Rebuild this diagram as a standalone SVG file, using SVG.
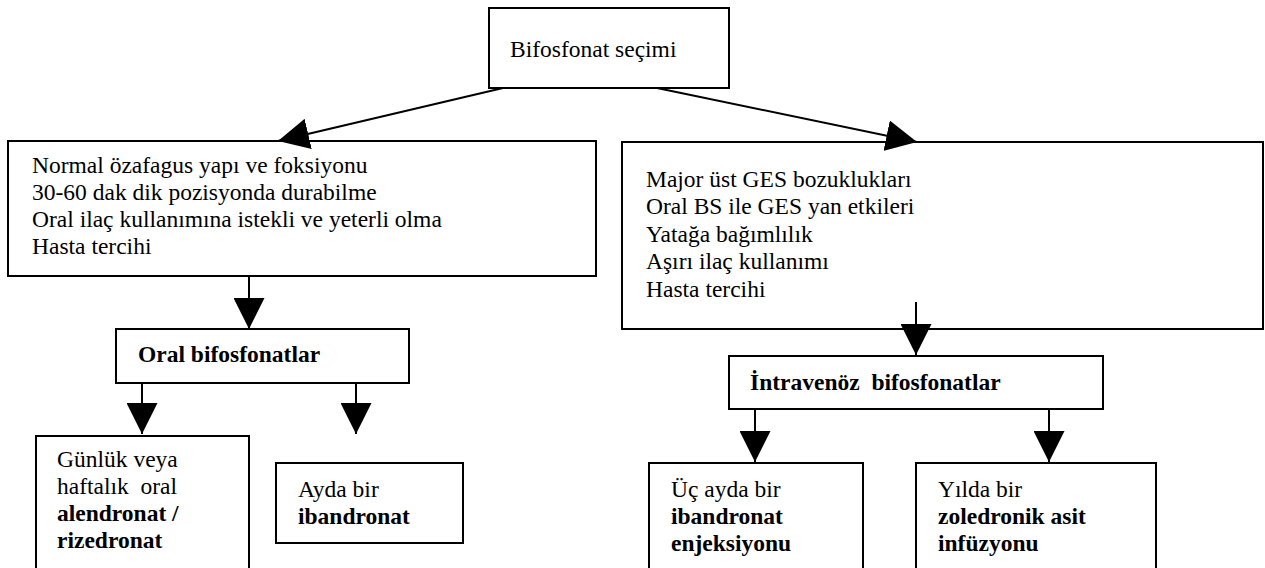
<svg xmlns="http://www.w3.org/2000/svg" width="1265" height="568" viewBox="0 0 1265 568">
<style>
.box{fill:#fff;stroke:#000;stroke-width:2}
text{font-family:'Liberation Serif','Times New Roman',Times,serif;font-size:23.5px;fill:#000;white-space:pre}
.b{font-weight:bold}
.c{stroke:#000;stroke-width:2;fill:none;marker-end:url(#ah)}
</style>
<defs>
<marker id="ah" markerUnits="userSpaceOnUse" markerWidth="31" markerHeight="31" viewBox="0 0 31 31" refX="31" refY="15.5" orient="auto">
<path d="M0,0 L31,15.5 L0,31 z" fill="#000"/>
</marker>
</defs>
<rect width="1265" height="568" fill="#fff"/>
<g id="n-top">
<rect class="box" x="489" y="8" width="240" height="80"/>
<text x="510" y="57">Bifosfonat seçimi</text>
</g>
<g id="n-left">
<rect class="box" x="8" y="141" width="588" height="135"/>
<text x="32" y="173">Normal özafagus yapı ve foksiyonu</text>
<text x="32" y="200">30-60 dak dik pozisyonda durabilme</text>
<text x="32" y="227">Oral ilaç kullanımına istekli ve yeterli olma</text>
<text x="32" y="254">Hasta tercihi</text>
</g>
<g id="n-right">
<rect class="box" x="622" y="142" width="641" height="187"/>
<text x="646" y="187">Major üst GES bozuklukları</text>
<text x="646" y="214">Oral BS ile GES yan etkileri</text>
<text x="646" y="242">Yatağa bağımlılık</text>
<text x="646" y="269">Aşırı ilaç kullanımı</text>
<text x="646" y="297">Hasta tercihi</text>
</g>
<g id="n-oral">
<rect class="box" x="116" y="329" width="293" height="54"/>
<text class="b" x="138" y="362">Oral bifosfonatlar</text>
</g>
<g id="n-iv">
<rect class="box" x="729" y="356" width="374" height="53"/>
<text class="b" x="750" y="390">İntravenöz  bifosfonatlar</text>
</g>
<g id="n-gunluk">
<rect class="box" x="36" y="436" width="213" height="145"/>
<text x="57" y="467">Günlük veya</text>
<text x="57" y="494">haftalık  oral</text>
<text class="b" x="57" y="521">alendronat /</text>
<text class="b" x="57" y="548">rizedronat</text>
</g>
<g id="n-ayda">
<rect class="box" x="276" y="463" width="187" height="80"/>
<text x="298" y="497">Ayda bir</text>
<text class="b" x="298" y="524">ibandronat</text>
</g>
<g id="n-uc">
<rect class="box" x="649" y="463" width="214" height="118"/>
<text x="671" y="497">Üç ayda bir</text>
<text class="b" x="671" y="524">ibandronat</text>
<text class="b" x="671" y="551">enjeksiyonu</text>
</g>
<g id="n-yilda">
<rect class="box" x="916" y="463" width="240" height="118"/>
<text x="938" y="497">Yılda bir</text>
<text class="b" x="938" y="524">zoledronik asit</text>
<text class="b" x="938" y="551">infüzyonu</text>
</g>
<g id="connectors">
<line class="c" x1="503" y1="88" x2="278" y2="141"/>
<line class="c" x1="657" y1="88" x2="917" y2="142"/>
<line class="c" x1="249" y1="276" x2="249" y2="329"/>
<line class="c" x1="916" y1="302" x2="916" y2="355"/>
<line class="c" x1="142" y1="383" x2="142" y2="434"/>
<line class="c" x1="356" y1="383" x2="356" y2="434"/>
<line class="c" x1="755" y1="409" x2="755" y2="462"/>
<line class="c" x1="1049" y1="409" x2="1049" y2="462"/>
</g>
</svg>
